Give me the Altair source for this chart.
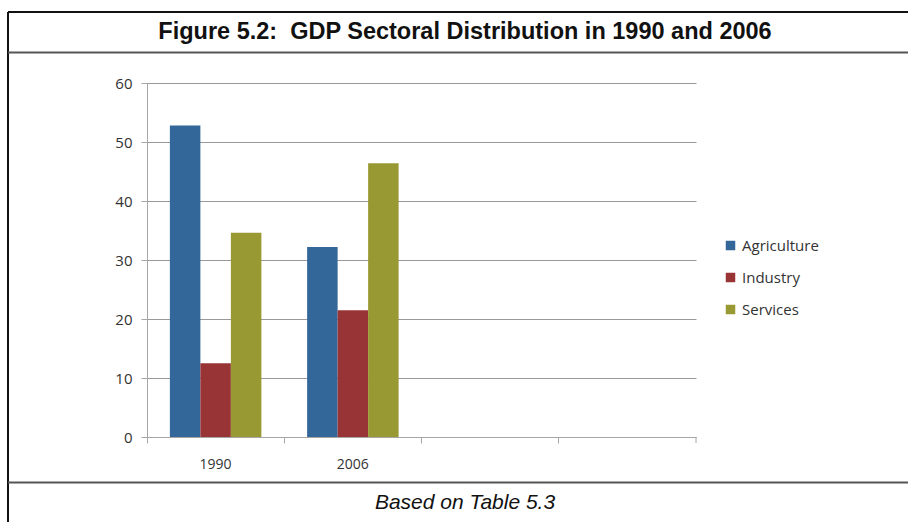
import altair as alt
import pandas as pd

years = ["1990", "2006"]
slots = ["1990", "2006", " ", "  "]
sectors = ["Agriculture", "Industry", "Services"]
agriculture = [52.8, 32.2]
industry = [12.5, 21.5]
services = [34.6, 46.4]
colors = ["#336699", "#993436", "#999933"]
y_ticks = [0, 10, 20, 30, 40, 50, 60]

rows = []
for i, yr in enumerate(years):
    rows.append({"year": yr, "sector": "Agriculture", "value": agriculture[i]})
    rows.append({"year": yr, "sector": "Industry", "value": industry[i]})
    rows.append({"year": yr, "sector": "Services", "value": services[i]})
df = pd.DataFrame(rows)

W, H = 549, 354
PL, PT = 147, 83

bars = alt.Chart(df).mark_bar().encode(
    x=alt.X("year:N", scale=alt.Scale(domain=slots, paddingInner=0, paddingOuter=0),
            axis=alt.Axis(title=None, labelAngle=0, bandPosition=0,
                          domainColor="#a6a6a6", tickColor="#a6a6a6", tickSize=6,
                          labelPadding=14, labelFont="Open Sans", labelFontSize=14,
                          labelColor="#333333", grid=False)),
    xOffset=alt.XOffset("sector:N", scale=alt.Scale(domain=sectors, paddingOuter=0.75, paddingInner=0)),
    y=alt.Y("value:Q", scale=alt.Scale(domain=[0, 60], nice=False),
            axis=alt.Axis(title=None, values=y_ticks, domainColor="#a6a6a6", tickColor="#a6a6a6",
                          tickSize=6, labelPadding=9, labelFont="Open Sans", labelFontSize=15,
                          labelColor="#333333", gridColor="#999999", gridWidth=1)),
    color=alt.Color("sector:N", scale=alt.Scale(domain=sectors, range=colors),
                    legend=alt.Legend(title=None, orient="none", legendX=576, legendY=155,
                                      symbolType="square", symbolSize=90, symbolStrokeWidth=0,
                                      labelFont="Open Sans", labelFontSize=15, labelColor="#333333",
                                      rowPadding=16, labelOffset=4)),
)

one = pd.DataFrame({"a": [0]})

last_tick = alt.Chart(one).mark_rule(color="#a6a6a6").encode(
    x=alt.value(W), y=alt.value(H), y2=alt.value(H + 6))

top_border = alt.Chart(one).mark_rule(color="#111111", strokeWidth=2).encode(
    x=alt.value(8 - PL), x2=alt.value(908 - PL), y=alt.value(12 - PT))
left_border = alt.Chart(one).mark_rule(color="#111111", strokeWidth=2).encode(
    x=alt.value(8 - PL), y=alt.value(12 - PT), y2=alt.value(522 - PT))
sep1 = alt.Chart(one).mark_rule(color="#555555", strokeWidth=2).encode(
    x=alt.value(8 - PL), x2=alt.value(908 - PL), y=alt.value(52.5 - PT))
sep2 = alt.Chart(one).mark_rule(color="#555555", strokeWidth=2).encode(
    x=alt.value(8 - PL), x2=alt.value(908 - PL), y=alt.value(482.5 - PT))

title = alt.Chart(one).mark_text(text="Figure 5.2:\u00a0 GDP Sectoral Distribution in 1990 and 2006",
                                 font="Liberation Sans", fontSize=23.5, fontWeight="bold",
                                 color="#111111", align="center", baseline="middle").encode(
    x=alt.value(465 - PL), y=alt.value(32 - PT))
footer = alt.Chart(one).mark_text(text="Based on Table 5.3", font="Liberation Sans", fontSize=21,
                                  fontStyle="italic", color="#111111", align="center",
                                  baseline="middle").encode(
    x=alt.value(465 - PL), y=alt.value(503 - PT))

chart = alt.layer(bars, last_tick, top_border, left_border, sep1, sep2, title, footer).properties(
    width=W, height=H,
    autosize=alt.AutoSizeParams(type="none"),
    padding={"left": PL, "top": PT, "right": 908 - PL - W, "bottom": 522 - PT - H},
    background="white",
).configure_view(stroke=None)

chart.save("out.html", embed_options={"renderer": "svg", "actions": False})
